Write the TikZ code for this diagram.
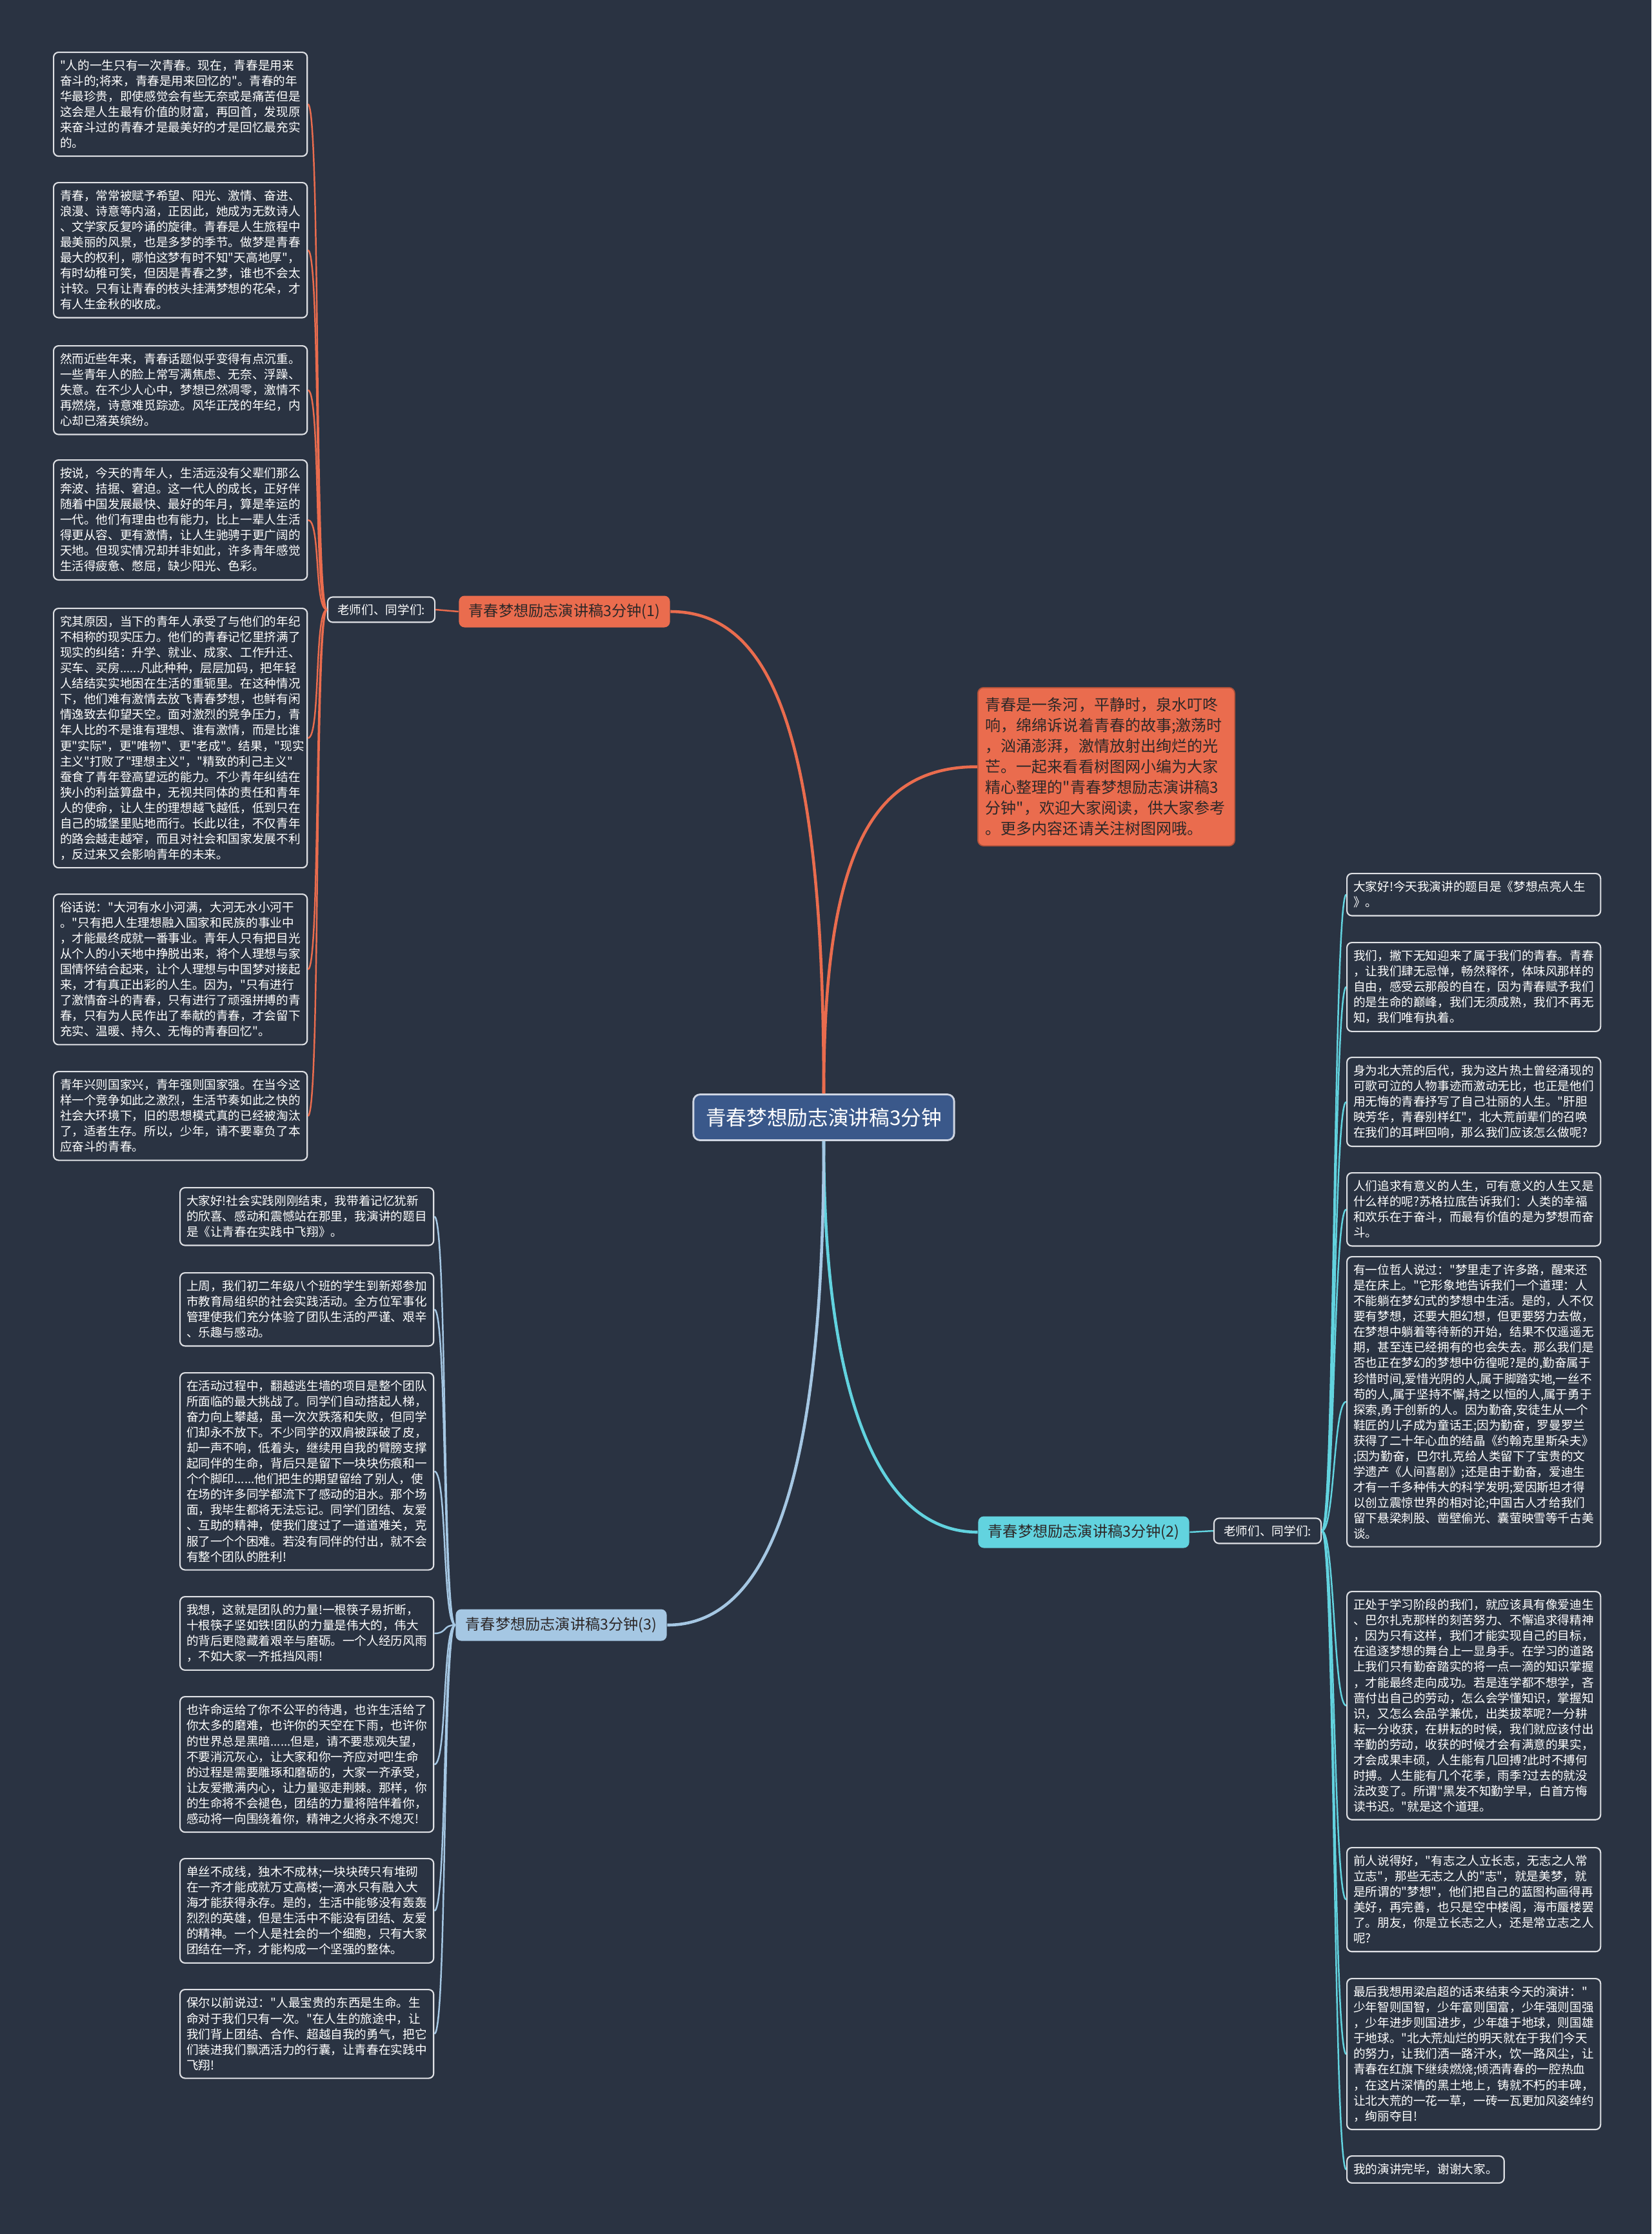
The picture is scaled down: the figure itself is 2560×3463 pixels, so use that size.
\documentclass[tikz,border=0pt]{standalone}
\usepackage{fontspec}
\setmainfont{Noto Sans CJK SC}[Ligatures=TeXOff]
\definecolor{bgcol}{RGB}{42,51,66}
\definecolor{rootcol}{RGB}{58,88,138}
\definecolor{redcol}{RGB}{234,108,78}
\definecolor{cyancol}{RGB}{98,211,223}
\definecolor{bluecol}{RGB}{165,199,227}
\definecolor{edgecol}{RGB}{222,224,228}
\definecolor{inkcol}{RGB}{45,40,40}

\begin{document}
\begin{tikzpicture}[x=0.01cm, y=-0.01cm,
  notebox/.style={draw=edgecol, line width=0.6pt, rounded corners=2.2pt, fill=bgcol,
    text=white, font=\fontsize{5.3}{6.83}\selectfont, align=left,
    inner xsep=0.1cm, inner ysep=0.12cm, anchor=north west},
  leafbox/.style={notebox, text width=3.73cm},
  tagbox/.style={draw=edgecol, line width=0.6pt, rounded corners=2.2pt, fill=bgcol,
    text=white, font=\fontsize{5.3}{6.83}\selectfont,
    minimum width=1.66cm, minimum height=0.39cm, inner sep=1pt},
  topicbox/.style={rounded corners=2.5pt, text=inkcol, font=\fontsize{6.6}{8}\selectfont,
    minimum width=3.27cm, minimum height=0.49cm, inner sep=1pt},
  rootbox/.style={draw=white!75!rootcol, line width=0.8pt, fill=rootcol, text=white,
    rounded corners=3pt, font=\fontsize{9}{11}\selectfont,
    minimum width=4.04cm, minimum height=0.71cm},
  introbox/.style={draw=redcol!75!black, line width=0.5pt, fill=redcol, text=inkcol,
    rounded corners=2.5pt, font=\fontsize{6.83}{9.1}\selectfont, align=left,
    text width=3.74cm, inner xsep=0.12cm, inner ysep=0.155cm, anchor=north west},
  trunk/.style={line width=1.3pt},
  twig/.style={line width=0.7pt}]

  \fill[bgcol] (0,0) rectangle (2560,3463);

  \node[rootbox] (root) at (1277,1732) {青春梦想励志演讲稿3分钟};

  \node[topicbox, fill=redcol] (sec1) at (875,948) {青春梦想励志演讲稿3分钟(1)};
  \node[tagbox] (tag1) at (591,945) {老师们、同学们:};
  \node[topicbox, fill=cyancol] (sec2) at (1680,2375) {青春梦想励志演讲稿3分钟(2)};
  \node[tagbox] (tag2) at (1965,2373) {老师们、同学们:};
  \node[topicbox, fill=bluecol] (sec3) at (870,2519) {青春梦想励志演讲稿3分钟(3)};

  \node[introbox] (intro) at (1515,1065) {青春是一条河，平静时，泉水叮咚\\响，绵绵诉说着青春的故事;激荡时\\，汹涌澎湃，激情放射出绚烂的光\\芒。一起来看看树图网小编为大家\\精心整理的"青春梦想励志演讲稿3\\分钟"，欢迎大家阅读，供大家参考\\。更多内容还请关注树图网哦。};

  \node[leafbox] (p1) at (82,80) {"人的一生只有一次青春。现在，青春是用来\\奋斗的;将来，青春是用来回忆的"。青春的年\\华最珍贵，即使感觉会有些无奈或是痛苦但是\\这会是人生最有价值的财富，再回首，发现原\\来奋斗过的青春才是最美好的才是回忆最充实\\的。};
  \node[leafbox] (p2) at (82,282) {青春，常常被赋予希望、阳光、激情、奋进、\\浪漫、诗意等内涵，正因此，她成为无数诗人\\、文学家反复吟诵的旋律。青春是人生旅程中\\最美丽的风景，也是多梦的季节。做梦是青春\\最大的权利，哪怕这梦有时不知"天高地厚"，\\有时幼稚可笑，但因是青春之梦，谁也不会太\\计较。只有让青春的枝头挂满梦想的花朵，才\\有人生金秋的收成。};
  \node[leafbox] (p3) at (82,535) {然而近些年来，青春话题似乎变得有点沉重。\\一些青年人的脸上常写满焦虑、无奈、浮躁、\\失意。在不少人心中，梦想已然凋零，激情不\\再燃烧，诗意难觅踪迹。风华正茂的年纪，内\\心却已落英缤纷。};
  \node[leafbox] (p4) at (82,712) {按说，今天的青年人，生活远没有父辈们那么\\奔波、拮据、窘迫。这一代人的成长，正好伴\\随着中国发展最快、最好的年月，算是幸运的\\一代。他们有理由也有能力，比上一辈人生活\\得更从容、更有激情，让人生驰骋于更广阔的\\天地。但现实情况却并非如此，许多青年感觉\\生活得疲惫、憋屈，缺少阳光、色彩。};
  \node[leafbox] (p5) at (82,942) {究其原因，当下的青年人承受了与他们的年纪\\不相称的现实压力。他们的青春记忆里挤满了\\现实的纠结：升学、就业、成家、工作升迁、\\买车、买房......凡此种种，层层加码，把年轻\\人结结实实地困在生活的重轭里。在这种情况\\下，他们难有激情去放飞青春梦想，也鲜有闲\\情逸致去仰望天空。面对激烈的竞争压力，青\\年人比的不是谁有理想、谁有激情，而是比谁\\更"实际"，更"唯物"、更"老成"。结果，"现实\\主义"打败了"理想主义"，"精致的利己主义"\\蚕食了青年登高望远的能力。不少青年纠结在\\狭小的利益算盘中，无视共同体的责任和青年\\人的使命，让人生的理想越飞越低，低到只在\\自己的城堡里贴地而行。长此以往，不仅青年\\的路会越走越窄，而且对社会和国家发展不利\\，反过来又会影响青年的未来。};
  \node[leafbox] (p6) at (82,1385) {俗话说："大河有水小河满，大河无水小河干\\。"只有把人生理想融入国家和民族的事业中\\，才能最终成就一番事业。青年人只有把目光\\从个人的小天地中挣脱出来，将个人理想与家\\国情怀结合起来，让个人理想与中国梦对接起\\来，才有真正出彩的人生。因为，"只有进行\\了激情奋斗的青春，只有进行了顽强拼搏的青\\春，只有为人民作出了奉献的青春，才会留下\\充实、温暖、持久、无悔的青春回忆"。};
  \node[leafbox] (p7) at (82,1660) {青年兴则国家兴，青年强则国家强。在当今这\\样一个竞争如此之激烈，生活节奏如此之快的\\社会大环境下，旧的思想模式真的已经被淘汰\\了，适者生存。所以，少年，请不要辜负了本\\应奋斗的青春。};

  \node[leafbox] (q1) at (2087,1353) {大家好!今天我演讲的题目是《梦想点亮人生\\》。};
  \node[leafbox] (q2) at (2087,1460) {我们，撇下无知迎来了属于我们的青春。青春\\，让我们肆无忌惮，畅然释怀，体味风那样的\\自由，感受云那般的自在，因为青春赋予我们\\的是生命的巅峰，我们无须成熟，我们不再无\\知，我们唯有执着。};
  \node[leafbox] (q3) at (2087,1638) {身为北大荒的后代，我为这片热土曾经涌现的\\可歌可泣的人物事迹而激动无比，也正是他们\\用无悔的青春抒写了自己壮丽的人生。"肝胆\\映芳华，青春别样红"，北大荒前辈们的召唤\\在我们的耳畔回响，那么我们应该怎么做呢?};
  \node[leafbox] (q4) at (2087,1817) {人们追求有意义的人生，可有意义的人生又是\\什么样的呢?苏格拉底告诉我们：人类的幸福\\和欢乐在于奋斗，而最有价值的是为梦想而奋\\斗。};
  \node[leafbox] (q5) at (2087,1947) {有一位哲人说过："梦里走了许多路，醒来还\\是在床上。"它形象地告诉我们一个道理：人\\不能躺在梦幻式的梦想中生活。是的，人不仅\\要有梦想，还要大胆幻想，但更要努力去做，\\在梦想中躺着等待新的开始，结果不仅遥遥无\\期，甚至连已经拥有的也会失去。那么我们是\\否也正在梦幻的梦想中彷徨呢?是的,勤奋属于\\珍惜时间,爱惜光阴的人,属于脚踏实地,一丝不\\苟的人,属于坚持不懈,持之以恒的人,属于勇于\\探索,勇于创新的人。因为勤奋,安徒生从一个\\鞋匠的儿子成为童话王;因为勤奋，罗曼罗兰\\获得了二十年心血的结晶《约翰克里斯朵夫》\\;因为勤奋，巴尔扎克给人类留下了宝贵的文\\学遗产《人间喜剧》;还是由于勤奋，爱迪生\\才有一千多种伟大的科学发明;爱因斯坦才得\\以创立震惊世界的相对论;中国古人才给我们\\留下悬梁刺股、凿壁偷光、囊萤映雪等千古美\\谈。};
  \node[leafbox] (q6) at (2087,2466) {正处于学习阶段的我们，就应该具有像爱迪生\\、巴尔扎克那样的刻苦努力、不懈追求得精神\\，因为只有这样，我们才能实现自己的目标，\\在追逐梦想的舞台上一显身手。在学习的道路\\上我们只有勤奋踏实的将一点一滴的知识掌握\\，才能最终走向成功。若是连学都不想学，吝\\啬付出自己的劳动，怎么会学懂知识，掌握知\\识，又怎么会品学兼优，出类拔萃呢?一分耕\\耘一分收获，在耕耘的时候，我们就应该付出\\辛勤的劳动，收获的时候才会有满意的果实，\\才会成果丰硕，人生能有几回搏?此时不搏何\\时搏。人生能有几个花季，雨季?过去的就没\\法改变了。所谓"黑发不知勤学早，白首方悔\\读书迟。"就是这个道理。};
  \node[leafbox] (q7) at (2087,2863) {前人说得好，"有志之人立长志，无志之人常\\立志"，那些无志之人的"志"，就是美梦，就\\是所谓的"梦想"，他们把自己的蓝图构画得再\\美好，再完善，也只是空中楼阁，海市蜃楼罢\\了。朋友，你是立长志之人，还是常立志之人\\呢?};
  \node[leafbox] (q8) at (2087,3066) {最后我想用梁启超的话来结束今天的演讲："\\少年智则国智，少年富则国富，少年强则国强\\，少年进步则国进步，少年雄于地球，则国雄\\于地球。"北大荒灿烂的明天就在于我们今天\\的努力，让我们洒一路汗水，饮一路风尘，让\\青春在红旗下继续燃烧;倾洒青春的一腔热血\\，在这片深情的黑土地上，铸就不朽的丰碑，\\让北大荒的一花一草，一砖一瓦更加风姿绰约\\，绚丽夺目!};
  \node[notebox] (q9) at (2087,3341) {我的演讲完毕，谢谢大家。};

  \node[leafbox] (r1) at (278,1840) {大家好!社会实践刚刚结束，我带着记忆犹新\\的欣喜、感动和震憾站在那里，我演讲的题目\\是《让青春在实践中飞翔》。};
  \node[leafbox] (r2) at (278,1972) {上周，我们初二年级八个班的学生到新郑参加\\市教育局组织的社会实践活动。全方位军事化\\管理使我们充分体验了团队生活的严谨、艰辛\\、乐趣与感动。};
  \node[leafbox] (r3) at (278,2127) {在活动过程中，翻越逃生墙的项目是整个团队\\所面临的最大挑战了。同学们自动搭起人梯，\\奋力向上攀越，虽一次次跌落和失败，但同学\\们却永不放下。不少同学的双肩被踩破了皮，\\却一声不响，低着头，继续用自我的臂膀支撑\\起同伴的生命，背后只是留下一块块伤痕和一\\个个脚印......他们把生的期望留给了别人，使\\在场的许多同学都流下了感动的泪水。那个场\\面，我毕生都将无法忘记。同学们团结、友爱\\、互助的精神，使我们度过了一道道难关，克\\服了一个个困难。若没有同伴的付出，就不会\\有整个团队的胜利!};
  \node[leafbox] (r4) at (278,2474) {我想，这就是团队的力量!一根筷子易折断，\\十根筷子坚如铁!团队的力量是伟大的，伟大\\的背后更隐藏着艰辛与磨砺。一个人经历风雨\\，不如大家一齐抵挡风雨!};
  \node[leafbox] (r5) at (278,2629) {也许命运给了你不公平的待遇，也许生活给了\\你太多的磨难，也许你的天空在下雨，也许你\\的世界总是黑暗......但是，请不要悲观失望，\\不要消沉灰心，让大家和你一齐应对吧!生命\\的过程是需要雕琢和磨砺的，大家一齐承受，\\让友爱撒满内心，让力量驱走荆棘。那样，你\\的生命将不会褪色，团结的力量将陪伴着你，\\感动将一向围绕着你，精神之火将永不熄灭!};
  \node[leafbox] (r6) at (278,2880) {单丝不成线，独木不成林;一块块砖只有堆砌\\在一齐才能成就万丈高楼;一滴水只有融入大\\海才能获得永存。是的，生活中能够没有轰轰\\烈烈的英雄，但是生活中不能没有团结、友爱\\的精神。一个人是社会的一个细胞，只有大家\\团结在一齐，才能构成一个坚强的整体。};
  \node[leafbox] (r7) at (278,3083) {保尔以前说过："人最宝贵的东西是生命。生\\命对于我们只有一次。"在人生的旅途中，让\\我们背上团结、合作、超越自我的勇气，把它\\们装进我们飘洒活力的行囊，让青春在实践中\\飞翔!};

  \draw[trunk, redcol] (root.north) .. controls +(0,-550) and +(160,0) .. (sec1.east);
  \draw[trunk, redcol] (root.north) .. controls +(0,-380) and +(-160,0) .. (intro.west);
  \draw[trunk, cyancol] (root.south) .. controls +(0,380) and +(-160,0) .. (sec2.west);
  \draw[trunk, bluecol] (root.south) .. controls +(0,520) and +(160,0) .. (sec3.east);

  \draw[twig, redcol] (sec1.west) -- (tag1.east);
  \draw[twig, cyancol] (sec2.east) -- (tag2.west);

  \foreach \n in {p1,p2,p3,p4,p5,p6,p7}
    \draw[twig, redcol] (tag1.west) .. controls +(-20,0) and +(20,0) .. (\n.east);
  \foreach \n in {q1,q2,q3,q4,q5,q6,q7,q8,q9}
    \draw[twig, cyancol] (tag2.east) .. controls +(20,0) and +(-20,0) .. (\n.west);
  \foreach \n in {r1,r2,r3,r4,r5,r6,r7}
    \draw[twig, bluecol] (sec3.west) .. controls +(-20,0) and +(20,0) .. (\n.east);
\end{tikzpicture}
\end{document}
